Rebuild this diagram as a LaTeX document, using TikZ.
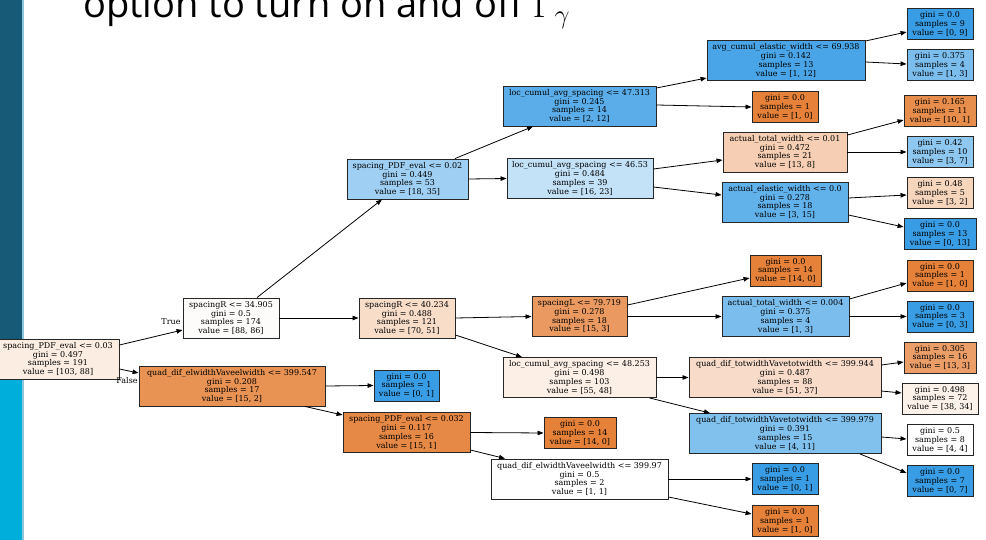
\RequirePackage{fix-cm}
\documentclass[tikz,border=0pt]{standalone}
\usepackage{fontspec}
\setmainfont{DejaVu Serif}
\newfontfamily\titlefont{Open Sans}
\usetikzlibrary{arrows.meta}
\definecolor{orng}{HTML}{E58139}
\definecolor{blu}{HTML}{399DE5}
\definecolor{barDark}{HTML}{175A77}
\definecolor{barLight}{HTML}{00AEDC}
\definecolor{barEdge}{HTML}{8CC6DA}
\newcommand\nodefont{\fontsize{8}{8.7}\selectfont}
\tikzset{
  box/.style={rectangle, draw=black!85, line width=0.9pt, align=center, font=\nodefont, inner sep=0pt, minimum height=40pt},
  leaf/.style={box, minimum height=31pt},
  edge/.style={draw=black, line width=0.8pt, -{Triangle[length=6pt,width=4.5pt]}},
  lbl/.style={font=\nodefont, inner sep=0pt}
}
\begin{document}
\begin{tikzpicture}[x=1pt,y=-1pt]
\useasboundingbox (0,0) rectangle (986,540);
\fill[white] (0,0) rectangle (986,540);
% side bar
\fill[barDark] (0,0) rectangle (22,373);
\fill[barLight] (0,373) rectangle (22,540);
\fill[barEdge] (22,0) rectangle (24,540);
% title
\node[anchor=base west, inner sep=0pt, font=\titlefont\fontsize{38}{42}\selectfont] (title) at (83,18) {option to turn on and off $\Gamma_\gamma$};

% nodes
\node[box, fill=orng!14.6, minimum width=122pt] (root) at (58,359) {spacing\_PDF\_eval <= 0.03\\gini = 0.497\\samples = 191\\value = [103, 88]};
\node[box, fill=orng!2.3, minimum width=96pt] (n2) at (231,318) {spacingR <= 34.905\\gini = 0.5\\samples = 174\\value = [88, 86]};
\node[box, fill=orng!86.7, minimum width=186pt] (n3) at (232,386) {quad\_dif\_elwidthVaveelwidth <= 399.547\\gini = 0.208\\samples = 17\\value = [15, 2]};
\node[box, fill=blu!48.6, minimum width=121pt] (n4) at (407.5,179) {spacing\_PDF\_eval <= 0.02\\gini = 0.449\\samples = 53\\value = [18, 35]};
\node[box, fill=orng!27.1, minimum width=96pt] (n5) at (407,318) {spacingR <= 40.234\\gini = 0.488\\samples = 121\\value = [70, 51]};
\node[leaf, fill=blu, minimum width=65pt] (n30) at (406.5,385.5) {gini = 0.0\\samples = 1\\value = [0, 1]};
\node[box, fill=orng!93.3, minimum width=127pt] (n31) at (406.5,432.5) {spacing\_PDF\_eval <= 0.032\\gini = 0.117\\samples = 16\\value = [15, 1]};
\node[box, fill=blu!83.3, minimum width=153pt] (n6) at (579.5,106) {loc\_cumul\_avg\_spacing <= 47.313\\gini = 0.245\\samples = 14\\value = [2, 12]};
\node[box, fill=blu!30.4, minimum width=146pt] (n7) at (580,178.5) {loc\_cumul\_avg\_spacing <= 46.53\\gini = 0.484\\samples = 39\\value = [16, 23]};
\node[box, fill=orng!80, minimum width=95pt] (n18) at (579.5,316.5) {spacingL <= 79.719\\gini = 0.278\\samples = 18\\value = [15, 3]};
\node[box, fill=orng!12.7, minimum width=153pt] (n19) at (579.5,377.5) {loc\_cumul\_avg\_spacing <= 48.253\\gini = 0.498\\samples = 103\\value = [55, 48]};
\node[leaf, fill=orng, minimum width=72pt] (n32) at (580,433) {gini = 0.0\\samples = 14\\value = [14, 0]};
\node[box, fill=white, minimum width=177pt] (n33) at (579.5,479) {quad\_dif\_elwidthVaveelwidth <= 399.97\\gini = 0.5\\samples = 2\\value = [1, 1]};
\node[box, fill=blu!91.7, minimum width=158pt] (n8) at (786,60.5) {avg\_cumul\_elastic\_width <= 69.938\\gini = 0.142\\samples = 13\\value = [1, 12]};
\node[leaf, fill=orng, minimum width=66pt] (n9) at (785,107) {gini = 0.0\\samples = 1\\value = [1, 0]};
\node[box, fill=orng!38.5, minimum width=124pt] (n12) at (785,152) {actual\_total\_width <= 0.01\\gini = 0.472\\samples = 21\\value = [13, 8]};
\node[box, fill=blu!80, minimum width=126pt] (n13) at (785,202) {actual\_elastic\_width <= 0.0\\gini = 0.278\\samples = 18\\value = [3, 15]};
\node[leaf, fill=orng, minimum width=71pt] (n20) at (785.5,270.5) {gini = 0.0\\samples = 14\\value = [14, 0]};
\node[box, fill=blu!66.7, minimum width=127pt] (n21) at (785.5,316.5) {actual\_total\_width <= 0.004\\gini = 0.375\\samples = 4\\value = [1, 3]};
\node[box, fill=orng!27.4, minimum width=192pt] (n24) at (785,377.5) {quad\_dif\_totwidthVavetotwidth <= 399.944\\gini = 0.487\\samples = 88\\value = [51, 37]};
\node[box, fill=blu!63.6, minimum width=192pt] (n25) at (785,433.5) {quad\_dif\_totwidthVavetotwidth <= 399.979\\gini = 0.391\\samples = 15\\value = [4, 11]};
\node[leaf, fill=blu, minimum width=66pt] (n34) at (785,479) {gini = 0.0\\samples = 1\\value = [0, 1]};
\node[leaf, fill=orng, minimum width=66pt] (n35) at (785,521) {gini = 0.0\\samples = 1\\value = [1, 0]};
\node[leaf, fill=blu, minimum width=66pt] (n10) at (940,24) {gini = 0.0\\samples = 9\\value = [0, 9]};
\node[leaf, fill=blu!66.7, minimum width=66pt] (n11) at (940,65) {gini = 0.375\\samples = 4\\value = [1, 3]};
\node[leaf, fill=orng!90, minimum width=72pt] (n14) at (940,111) {gini = 0.165\\samples = 11\\value = [10, 1]};
\node[leaf, fill=blu!57.1, minimum width=66pt] (n15) at (940,152) {gini = 0.42\\samples = 10\\value = [3, 7]};
\node[leaf, fill=orng!33.3, minimum width=66pt] (n16) at (940,193) {gini = 0.48\\samples = 5\\value = [3, 2]};
\node[leaf, fill=blu, minimum width=72pt] (n17) at (940,234) {gini = 0.0\\samples = 13\\value = [0, 13]};
\node[leaf, fill=orng, minimum width=66pt] (n22) at (940,275.5) {gini = 0.0\\samples = 1\\value = [1, 0]};
\node[leaf, fill=blu, minimum width=66pt] (n23) at (940,316.5) {gini = 0.0\\samples = 3\\value = [0, 3]};
\node[leaf, fill=orng!76.9, minimum width=72pt] (n26) at (940,357.5) {gini = 0.305\\samples = 16\\value = [13, 3]};
\node[leaf, fill=orng!10.5, minimum width=76pt] (n27) at (940,398.5) {gini = 0.498\\samples = 72\\value = [38, 34]};
\node[leaf, fill=white, minimum width=66pt] (n28) at (940,440) {gini = 0.5\\samples = 8\\value = [4, 4]};
\node[leaf, fill=blu, minimum width=66pt] (n29) at (940,481) {gini = 0.0\\samples = 7\\value = [0, 7]};

% labels
\node[lbl] (ltrue) at (171,322) {True};
\node[lbl] (lfalse) at (127,381) {False};

% edges
\draw[edge] ([yshift=14pt]root.east) -- ([yshift=-12pt]n2.west);
\draw[edge] ([yshift=-10pt]root.east) -- ([yshift=13pt]n3.west);
\draw[edge] (n2.east) -- (n5.west);
\draw[edge] ([xshift=26pt]n2.north) -- ([xshift=-25.5pt]n4.south);
\draw[edge] (n3.east) -- (n30.west);
\draw[edge] ([xshift=73pt]n3.south) -- ([yshift=17.5pt]n31.west);
\draw[edge] (n4.east) -- (n7.west);
\draw[edge] ([xshift=47.5pt]n4.north) -- ([xshift=-46.5pt]n6.south);
\draw[edge] (n5.east) -- (n18.west);
\draw[edge] ([yshift=-17pt]n5.east) -- ([xshift=-57.5pt]n19.north);
\draw[edge] ([yshift=18pt]n6.east) -- ([yshift=-17.5pt]n8.west);
\draw[edge] ([yshift=1pt]n6.east) -- (n9.west);
\draw[edge] ([yshift=9.5pt]n7.east) -- ([yshift=-8pt]n12.west);
\draw[edge] ([yshift=-8.5pt]n7.east) -- ([yshift=7pt]n13.west);
\draw[edge] ([yshift=19.5pt]n8.east) -- ([yshift=-8pt]n10.west);
\draw[edge] ([yshift=-1.5pt]n8.east) -- ([yshift=1pt]n11.west);
\draw[edge] ([yshift=17pt]n12.east) -- ([yshift=-9pt]n14.west);
\draw[edge] (n12.east) -- (n15.west);
\draw[edge] ([yshift=4pt]n13.east) -- ([yshift=-2pt]n16.west);
\draw[edge] ([yshift=-13pt]n13.east) -- ([yshift=7pt]n17.west);
\draw[edge] ([yshift=11.5pt]n18.east) -- ([yshift=-7.5pt]n20.west);
\draw[edge] (n18.east) -- (n21.west);
\draw[edge] ([yshift=17.5pt]n21.east) -- ([yshift=-7.5pt]n22.west);
\draw[edge] (n21.east) -- (n23.west);
\draw[edge] (n19.east) -- (n24.west);
\draw[edge] ([xshift=70pt]n19.south) -- ([xshift=-75pt]n25.north);
\draw[edge] ([yshift=12.5pt]n24.east) -- ([yshift=-4.5pt]n26.west);
\draw[edge] ([yshift=-13.5pt]n24.east) -- ([yshift=5.5pt]n27.west);
\draw[edge] ([yshift=-3.5pt]n25.east) -- ([yshift=1pt]n28.west);
\draw[edge] ([xshift=75pt]n25.south) -- ([yshift=8pt]n29.west);
\draw[edge] (n31.east) -- (n32.west);
\draw[edge] ([yshift=-17.5pt]n31.east) -- ([xshift=-74.5pt]n33.north);
\draw[edge] (n33.east) -- (n34.west);
\draw[edge] ([yshift=-18pt]n33.east) -- ([yshift=7pt]n35.west);
\end{tikzpicture}
\end{document}
